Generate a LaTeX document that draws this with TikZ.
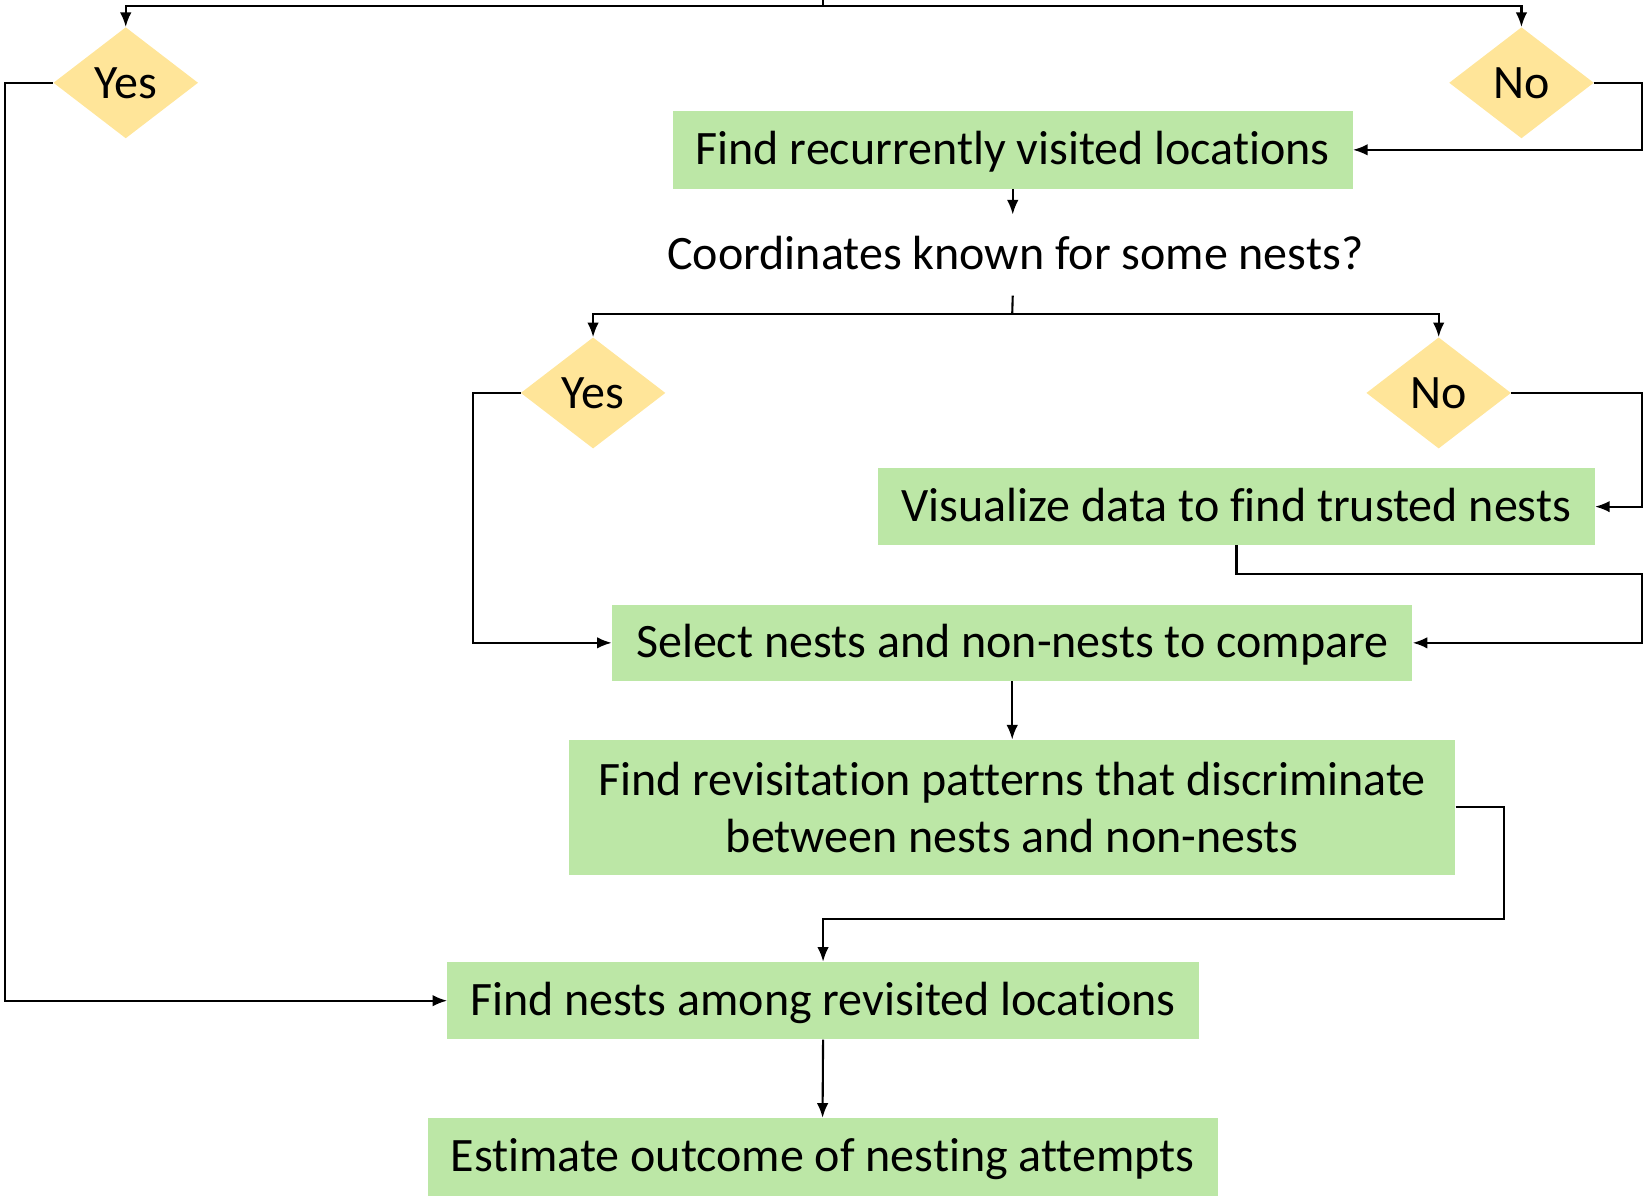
\documentclass[tikz,border=0pt]{standalone}
\usepackage{fontspec}
\setmainfont{Carlito}[Ligatures=NoCommon]
\usetikzlibrary{shapes.geometric,arrows.meta}
\definecolor{stepgreen}{HTML}{BCE7A6}
\definecolor{choiceyellow}{HTML}{FFE599}
\newcommand{\flowfont}{\fontsize{45.8}{55}\selectfont}
\tikzset{
  stepbox/.style={rectangle, fill=stepgreen, inner sep=0pt, align=center, font=\flowfont},
  oneline/.style={text height=39pt, text depth=11pt},
  choice/.style={diamond, fill=choiceyellow, inner sep=0pt,
    minimum width=138pt, minimum height=106pt, font=\flowfont},
  plain/.style={inner sep=0pt, font=\flowfont, oneline},
  link/.style={draw=black, line width=2pt},
  arr/.style={link, -{Latex[length=14pt,width=11pt]}},
}
\begin{document}
\begin{tikzpicture}[x=1pt,y=-1pt]
\useasboundingbox (0,0) rectangle (1568,1141);

% decisions and steps
\coordinate (top) at (785,0);
\node[choice] (yes1) at (120,79) {Yes};
\node[choice] (no1) at (1452,79) {No};
\node[stepbox, oneline, minimum width=649pt, minimum height=74pt] (recur) at (966.5,143) {Find recurrently visited locations};
\node[plain, minimum width=700pt, minimum height=77pt] (known) at (969,243.5) {Coordinates known for some nests?};
\node[choice] (yes2) at (566,375) {Yes};
\node[choice] (no2) at (1373,375) {No};
\node[stepbox, oneline, minimum width=684pt, minimum height=73pt] (vis) at (1180,483.5) {Visualize data to find trusted nests};
\node[stepbox, oneline, minimum width=764pt, minimum height=73pt] (sel) at (966,613.5) {Select nests and non-nests to compare};
\node[stepbox, minimum width=846pt, minimum height=129pt] (rev) at (966,770.5) {Find revisitation patterns that discriminate\\between nests and non-nests};
\node[stepbox, oneline, minimum width=717pt, minimum height=74pt] (find) at (785.5,955) {Find nests among revisited locations};
\node[stepbox, oneline, minimum width=754pt, minimum height=74pt] (est) at (785,1104) {Estimate outcome of nesting attempts};

% first split
\draw[link] (top) -- (785,6);
\draw[arr] (785,6) -| (yes1.north);
\draw[arr] (785,6) -| (no1.north);
\draw[arr] (yes1.west) -- (5,79) |- (find.west);
\draw[arr] (no1.east) -- (1567,79) |- (recur.east);
\draw[arr] (recur.south) -- (recur.south |- known.north);

% second split
\draw[link] (recur.south |- known.south) -- (966,300);
\draw[arr] (966,300) -| (yes2.north);
\draw[arr] (966,300) -| (no2.north);
\draw[arr] (yes2.west) -- (451,375) |- (sel.west);
\draw[arr] (no2.east) -- (1567,375) |- (vis.east);
\draw[arr] (vis.south) |- (1567,548) |- (sel.east);

% final steps
\draw[arr] (sel.south) -- (rev.north);
\draw[arr] (rev.east) -- (1435,770.5) -- (1435,877) -| (find.north);
\draw[arr] (find.south) -- (est.north);
\end{tikzpicture}
\end{document}
